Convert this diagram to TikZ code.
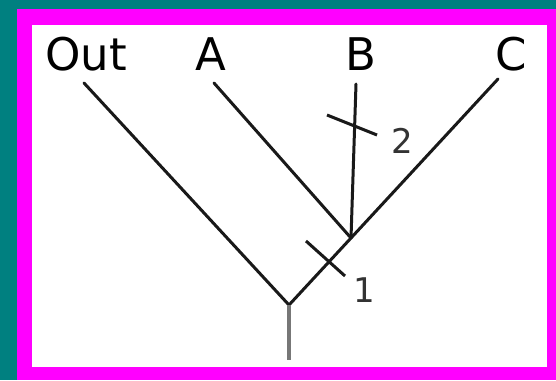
\documentclass[tikz,border=0pt]{standalone}
\usepackage{fontspec}
\setmainfont{DejaVu Sans}
\usetikzlibrary{positioning}
\definecolor{tealbg}{HTML}{008080}
\definecolor{frame}{HTML}{FF00FF}
\definecolor{stemgray}{HTML}{777777}
\tikzset{
  taxon/.style={anchor=base, inner sep=0pt, font=\fontsize{45}{45}\selectfont},
  steplabel/.style={inner sep=0pt, text=black!80, font=\fontsize{34}{34}\selectfont},
  branch/.style={line width=3pt, line cap=round, color=black!90},
  tick/.style={line width=3pt, color=black!90},
  stemline/.style={line width=3.4pt, color=stemgray}}

\begin{document}
\begin{tikzpicture}[x=1pt, y=-1pt]
  % background and frame
  \fill[tealbg] (0,0) rectangle (556,380);
  \fill[frame] (17,9) rectangle (556,380);
  \fill[white] (32,25) rectangle (547,367);
  \useasboundingbox (0,0) rectangle (556,380);
  % taxa
  \node[taxon] (out) at (86,70) {Out};
  \node[taxon] (a) at (211,70) {A};
  \node[taxon] (b) at (361,70) {B};
  \node[taxon] (c) at (511,70) {C};
  % branch points
  \coordinate (outend) at (84,83);
  \coordinate (aend) at (214,83);
  \coordinate (bend) at (356,84);
  \coordinate (cend) at (498,79);
  \coordinate (inner) at (351,238);
  \coordinate (root) at (289,305);
  \coordinate (base) at (289,360);
  % tree
  \draw[branch] (outend) -- (root) -- (inner) -- (cend);
  \draw[branch] (aend) -- (inner);
  \draw[branch] (bend) -- (inner);
  \draw[stemline] (root) -- (base);
  % character changes
  \coordinate (t2a) at (327,115);
  \coordinate (t2b) at (377,135);
  \coordinate (t1a) at (306,241);
  \coordinate (t1b) at (345,276);
  \draw[tick] (t2a) -- (t2b);
  \draw[tick] (t1a) -- (t1b);
  \node[steplabel] (two) at (402,141) {2};
  \node[steplabel] (one) at (364,290) {1};
\end{tikzpicture}
\end{document}
